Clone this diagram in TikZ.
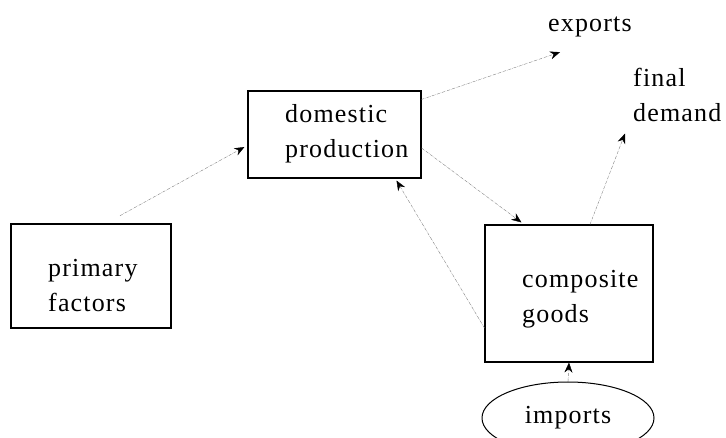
\documentclass[tikz,border=0pt]{standalone}
\usepackage{fontspec}
\setmainfont{Liberation Serif}[LetterSpace=4.5]
\usetikzlibrary{arrows.meta,shapes.geometric}

\tikzset{
    block/.style={draw, line width=1.1pt},
    label/.style={align=left, inner sep=0pt, font=\fontsize{26}{35}\selectfont},
    flow/.style={gray, thin, densely dashdotted, -{Stealth[black,length=10pt,width=8pt]}}
}

\begin{document}
\begin{tikzpicture}[x=1pt, y=-1pt]
    \useasboundingbox (0,0) rectangle (726,438);

    % Boxes of the model
    \node[block, minimum width=173pt, minimum height=87pt] (dom) at (334.5,134.5) {};
    \node[block, minimum width=160pt, minimum height=104pt] (prim) at (91,276) {};
    \node[block, minimum width=168pt, minimum height=137pt] (comp) at (569,293.5) {};
    \node[draw, line width=1pt, ellipse, minimum width=172pt, minimum height=72pt, label] (imp) at (568,418) {imports};

    % Texts of the boxes
    \node[label, anchor=west] (domtxt) at (285,133.6) {domestic\\production};
    \node[label, anchor=west] (primtxt) at (48,285.3) {primary\\factors};
    \node[label, anchor=west] (comptxt) at (522,299.4) {composite\\goods};

    % Free labels
    \node[label, anchor=base west] (exp) at (548,31.7) {exports};
    \node[label, anchor=west] (fin) at (633,94.6) {final\\demand};

    % Flows between the boxes
    \draw[flow, shorten <=16pt] ([xshift=15pt]prim.north) -- ([xshift=-3pt,yshift=-12.5pt]dom.west);
    \draw[flow] ([yshift=-9pt]dom.north east) -- ([xshift=12pt,yshift=-14.7pt]exp.south west);
    \draw[flow] ([yshift=-13.5pt]dom.east) -- ([xshift=37pt,yshift=2pt]comp.north west);
    \draw[flow] ([yshift=-34.5pt]comp.west) -- ([xshift=62pt,yshift=-2pt]dom.south);
    \draw[flow] ([xshift=21pt]comp.north) -- ([xshift=-8pt,yshift=-12pt]fin.south west);
    \draw[flow] (imp.north) -- (comp.south);
\end{tikzpicture}
\end{document}
